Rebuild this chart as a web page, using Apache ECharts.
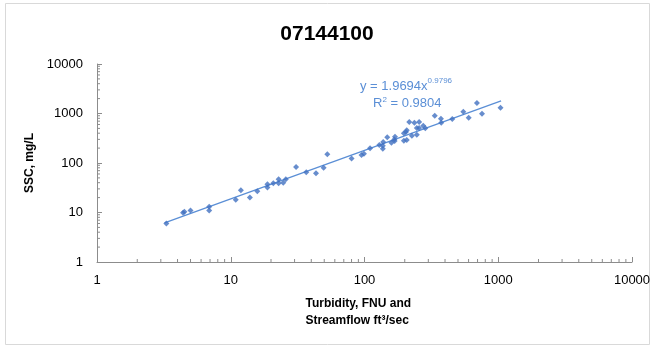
<!DOCTYPE html>
<html>
<head>
<meta charset="utf-8">
<script src="https://cdn.jsdelivr.net/npm/echarts@6/dist/echarts.min.js"></script>
<style>
  html, body { margin: 0; padding: 0; background: #fff; }
  #main { width: 654px; height: 347px; }
</style>
</head>
<body>
<div id="main"></div>
<script>
// turbidity / streamflow (x) vs SSC (y)
const turbidity = [3.3, 4.4, 4.5, 5.0, 6.9, 6.9, 10.9, 11.9, 13.9, 15.8, 18.8, 18.8, 20.8, 22.8, 22.8, 24.7, 25.8,
  30.8, 36.7, 43.4, 49.5, 52.7, 80, 95, 99, 110, 129, 138, 137, 137, 148, 159, 168, 169, 167, 197, 204, 207, 197, 207,
  216, 226, 236, 256, 246, 246, 256, 275, 285, 335, 373, 375, 453, 548, 601, 693, 756, 1040];
const ssc = [6, 9.9, 10.3, 11, 13, 11, 18, 28, 20, 27, 37, 32, 39, 47, 39, 40, 47,
  83, 65, 62, 80, 150, 124, 145, 154, 198, 231, 266, 224, 194, 330, 257, 278, 340, 300, 398, 423, 458, 282, 292,
  670, 356, 650, 670, 373, 510, 510, 567, 502, 900, 785, 650, 774, 1090, 823, 1630, 990, 1310];

// power trendline y = a * x^b
const fitA = 1.9694;
const fitB = 0.9796;
const fitRange = [3.2, 1050];

const xTicks = [1, 10, 100, 1000, 10000];
const yTicks = [1, 10, 100, 1000, 10000];

var points = turbidity.map(function (x, i) { return [x, ssc[i]]; });
var trend = fitRange.map(function (x) { return [x, fitA * Math.pow(x, fitB)]; });

// minor tick positions 2..9 in each decade
function minors(ticks) {
  var out = [];
  for (var i = 0; i < ticks.length - 1; i++) {
    for (var k = 2; k <= 9; k++) out.push(ticks[i] * k);
  }
  return out;
}
var xMinor = minors(xTicks);
var yMinor = minors(yTicks);

var axisColor = '#8c8c8c';
var font = 'Liberation Sans, Arial, sans-serif';
function plain(v) { return String(Math.round(v)); }

var myChart = echarts.init(document.getElementById('main'));
myChart.setOption({
  backgroundColor: '#fff',
  animation: false,
  textStyle: { fontFamily: font },
  title: {
    text: '07144100',
    left: 'center',
    top: 19,
    textStyle: { fontSize: 21, fontWeight: 'bold', color: '#000', fontFamily: font }
  },
  grid: { left: 97, right: 22, top: 64, bottom: 85 },
  xAxis: {
    type: 'log',
    logBase: 10,
    min: 1,
    max: 10000,
    splitLine: { show: false },
    axisLine: { lineStyle: { color: axisColor, width: 1 } },
    axisTick: { inside: true, length: 5, lineStyle: { color: axisColor } },
    axisLabel: { color: '#000', fontSize: 13, margin: 12, fontFamily: font, formatter: plain },
    name: 'Turbidity, FNU and\nStreamflow ft³/sec',
    nameLocation: 'middle',
    nameGap: 33,
    nameTextStyle: { color: '#000', fontSize: 12, fontWeight: 'bold', lineHeight: 17, fontFamily: font, align: 'left', padding: [0, 0, 0, -59] }
  },
  yAxis: {
    type: 'log',
    logBase: 10,
    min: 1,
    max: 10000,
    splitLine: { show: false },
    axisLine: { show: true, lineStyle: { color: axisColor, width: 1 } },
    axisTick: { show: true, inside: true, length: 5, lineStyle: { color: axisColor } },
    axisLabel: { color: '#000', fontSize: 13, margin: 14, fontFamily: font, formatter: plain },
    name: 'SSC, mg/L',
    nameLocation: 'middle',
    nameGap: 54,
    nameTextStyle: { color: '#000', fontSize: 12, fontWeight: 'bold', fontFamily: font }
  },
  series: [
    {
      type: 'line',
      data: trend,
      symbol: 'none',
      lineStyle: { color: '#5b8fd6', width: 1.3 },
      silent: true,
      z: 2
    },
    {
      type: 'scatter',
      data: points,
      symbol: 'diamond',
      symbolSize: 6,
      itemStyle: { color: '#4170c0' },
      z: 3
    },
    {
      // minor ticks along x axis
      type: 'custom',
      data: xMinor.map(function (v) { return [v, 1]; }),
      silent: true,
      renderItem: function (params, api) {
        var p = api.coord([api.value(0), api.value(1)]);
        return { type: 'line', shape: { x1: p[0], y1: p[1], x2: p[0], y2: p[1] - 3 }, style: { stroke: axisColor, lineWidth: 1 } };
      }
    },
    {
      // minor ticks along y axis
      type: 'custom',
      data: yMinor.map(function (v) { return [1, v]; }),
      silent: true,
      renderItem: function (params, api) {
        var p = api.coord([api.value(0), api.value(1)]);
        return { type: 'line', shape: { x1: p[0], y1: p[1], x2: p[0] + 3, y2: p[1] }, style: { stroke: axisColor, lineWidth: 1 } };
      }
    }
  ],
  graphic: [
    {
      type: 'rect',
      shape: { x: 5.5, y: 3.5, width: 644, height: 341 },
      style: { fill: 'none', stroke: '#d9d9d9', lineWidth: 1 },
      silent: true
    },
    {
      type: 'text',
      left: 360,
      top: 77,
      style: {
        text: '{a|y = 1.9694x}{s|0.9796}',
        rich: {
          a: { fontSize: 13, fill: '#5b8fd6', fontFamily: font, verticalAlign: 'bottom', lineHeight: 16 },
          s: { fontSize: 8, fill: '#5b8fd6', fontFamily: font, verticalAlign: 'top', lineHeight: 16, padding: [0, 0, 6, 0] }
        }
      }
    },
    {
      type: 'text',
      left: 373,
      top: 96,
      style: {
        text: '{a|R}{s|2}{a| = 0.9804}',
        rich: {
          a: { fontSize: 13, fill: '#5b8fd6', fontFamily: font, lineHeight: 16 },
          s: { fontSize: 8, fill: '#5b8fd6', fontFamily: font, lineHeight: 16, padding: [0, 0, 6, 0] }
        }
      }
    }
  ]
});
</script>
</body>
</html>
